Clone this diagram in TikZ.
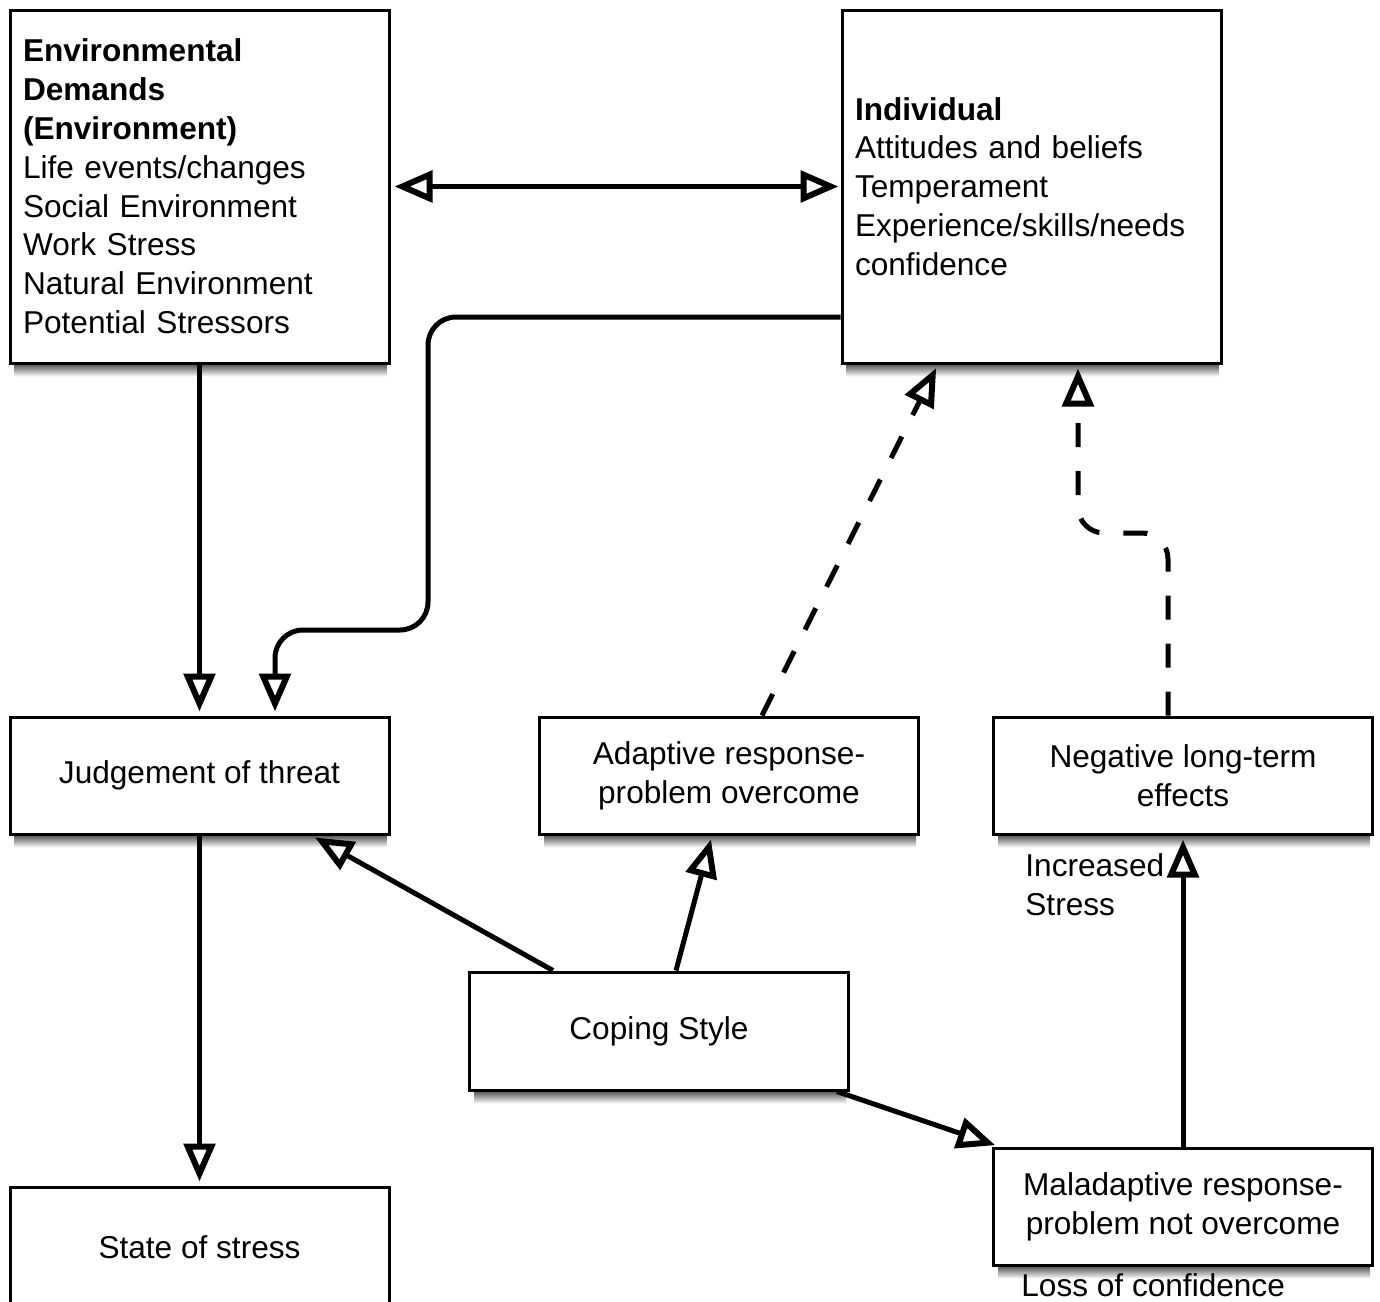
\documentclass[tikz,border=0pt]{standalone}
\usepackage{fontspec}
\setmainfont{Liberation Sans}
\usetikzlibrary{arrows.meta,calc}
\pgfdeclarelayer{background}
\pgfsetlayers{background,main}
\begin{document}
\begin{tikzpicture}[x=0.5pt,y=-0.5pt,
  txt/.style={font=\fontsize{15.8pt}{19.4pt}\selectfont},
  box/.style={draw, line width=1.5pt, fill=white, inner sep=0pt, txt, align=center,
    minimum width=189.5pt, minimum height=58.5pt},
  tbox/.style={box, align=left, text width=176.5pt, inner xsep=6.5pt, minimum height=176.5pt},
  tip/.tip={Triangle[open, length=19pt, width=15.5pt, line width=3pt]},
  conn/.style={line width=2.5pt, -tip, shorten >=2pt},
  dconn/.style={conn, dash pattern=on 12pt off 12pt},
  lbl/.style={txt, align=left, inner sep=0pt}]
\useasboundingbox (0,0) rectangle (1380,1301);

% boxes
\node[tbox] (env) at (199.5,186.5) {\textbf{Environmental}\\\textbf{Demands}\\\textbf{(Environment)}\\Life events/changes\\Social Environment\\Work Stress\\Natural Environment\\Potential Stressors};
\node[tbox] (ind) at (1031.5,186.5) {\textbf{Individual}\\Attitudes and beliefs\\Temperament\\Experience/skills/needs\\confidence};
\node[box] (judg) at (199.5,775.5) {Judgement of threat};
\node[box] (adap) at (729,775.5) {Adaptive response-\\problem overcome};
\node[box] (neg) at (1183,775.5) {Negative long-term\\effects};
\node[box, minimum height=59pt] (cop) at (659,1031) {Coping Style};
\node[box] (mal) at (1183,1206.5) {Maladaptive response-\\problem not overcome};
\node[box, minimum height=60pt] (state) at (199.5,1247) {State of stress};

% labels
\node[lbl, anchor=north west] (incr) at (1025,853) {Increased\\Stress};
\node[lbl, anchor=base west] (loss) at (1021,1296) {Loss of confidence};

% shadows
\begin{pgfonlayer}{background}
\fill[white] (0,0) rectangle (1380,1301);
\foreach \n in {env,ind,judg,adap,neg,cop,mal,state}
  \shade[top color=black!65, bottom color=white] ([xshift=3pt]\n.south west) rectangle ([xshift=-2pt,yshift=-6pt]\n.south east);
\end{pgfonlayer}

% connectors
\draw[line width=2.5pt, tip-tip, shorten <=2pt, shorten >=1pt] (env.east) -- (ind.west);
\draw[conn] (env.south) -- (judg.north);
\draw[conn, rounded corners=14pt] ([yshift=-65.25pt]ind.west) -| (428,630) -| ([xshift=37.75pt]judg.north);
\draw[conn] (judg.south) -- (state.north);
\draw[conn] ([xshift=-53pt]cop.north) -- ([xshift=56pt]judg.south);
\draw[conn] ([xshift=8.5pt]cop.north) -- ([xshift=-8.5pt]adap.south);
\draw[conn] ([xshift=-6.5pt]cop.south east) -- ([xshift=3.5pt]mal.north west);
\draw[conn] (mal.north) -- (neg.south);
\draw[dconn] ([xshift=16.5pt]adap.north) -- ([xshift=-46.75pt]ind.south);
\draw[dconn, rounded corners=13pt] ([xshift=-7.5pt]neg.north) |- (1078,533) -- ([xshift=23.25pt]ind.south);
\end{tikzpicture}
\end{document}
